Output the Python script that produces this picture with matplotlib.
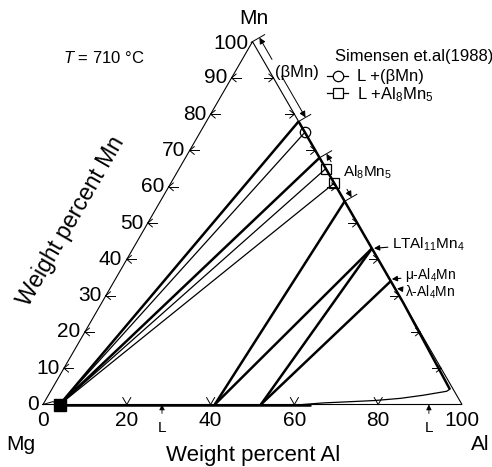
import numpy as np
import matplotlib
matplotlib.use("Agg")
import matplotlib.pyplot as plt
from matplotlib.lines import Line2D

plt.rcParams['font.family'] = ['Liberation Sans', 'DejaVu Sans']
plt.rcParams['mathtext.fontset'] = 'custom'
plt.rcParams['mathtext.rm'] = 'Liberation Sans'
plt.rcParams['mathtext.it'] = 'Liberation Sans:italic'
plt.rcParams['mathtext.default'] = 'regular'

# ---------------- data (wt.%) ----------------
mn_axis_ticks = [0, 10, 20, 30, 40, 50, 60, 70, 80, 90, 100]
al_axis_ticks = [0, 20, 40, 60, 80, 100]

# Mg-rich liquid and its tie lines to the Al-Mn side (end points given as wt.% Mn)
liq_mg_al, liq_mg_mn = 4.0, 0.0
fan_end_mn = [78, 75, 68, 65, 61]
fan_heavy = [True, False, True, False, False]

# liquids on the Mg-Al side and their tie lines
tie_start_al = [41, 41, 52, 52]
tie_end_mn = [56, 43, 43, 34]

# Simensen et al. (1988)
sim_beta_mn = [75]
sim_al8mn5_mn = [65, 61]

# homogeneity ranges / compounds on the Al-Mn side (wt.% Mn)
beta_range = (78, 100)
al8mn5_range = (56, 68)
lt_al11mn4_mn = 43
mu_al4mn_mn = 34.5
lambda_al4mn_mn = 32

# liquid boundary near the Al corner
liq_al_curve_al = [62, 66.7, 72.5, 78.7, 84.5, 89.5, 94.5, 95.0]
liq_al_curve_mn = [0, 0.44, 0.75, 1.1, 1.7, 2.56, 3.64, 4.2]

# solid boundary along the Al-Mn side
edge_bound_al = [22, 72, 95.0]
edge_bound_mn = [78, 28, 4.2]

# liquid along the Mg-Al side
liq_base_al = [4, 64]

L_mark_al = [28.4, 92.1]

# ---------------- geometry ----------------
S = 4.19            # pixels per wt.%
X0, Y0 = 43, 404.5  # Mg corner in pixels
R3 = np.sqrt(3) / 2


def tern(al, mn):
    al = np.asarray(al, float)
    mn = np.asarray(mn, float)
    return al + mn / 2, mn * R3


def edge(mn):
    return tern(100 - np.asarray(mn, float), mn)


def P(xp, yp):
    return (xp - X0) / S, (Y0 - yp) / S


fig = plt.figure(figsize=(4.92, 4.67), dpi=100)
ax = fig.add_axes([0, 0, 1, 1])
ax.set_xlim(-X0 / S, (492 - X0) / S)
ax.set_ylim(-(467 - Y0) / S, Y0 / S)
ax.axis('off')

K = 'black'
LW_THIN, LW_EDGE, LW_HEAVY = 0.9, 0.8, 1.8

# triangle
tx, ty = tern([0, 100, 0, 0], [0, 0, 100, 0])
ax.plot(tx, ty, color=K, lw=LW_EDGE, solid_joinstyle='miter')

# axis ticks
u = 1 / S
for m in mn_axis_ticks[1:-1]:
    # left (Mg-Mn) side
    px, py = tern(0, m)
    ax.plot([px, px + 9 * u], [py, py], color=K, lw=0.7)
    for s in (1, -1):
        a = np.radians(40)
        ax.plot([px, px + 6 * u * np.cos(a)], [py, py + s * 6 * u * np.sin(a)], color=K, lw=0.7)
    # right (Al-Mn) side
    px, py = edge(m)
    ax.plot([px, px - 9 * u], [py, py], color=K, lw=0.7)
    for s in (1, -1):
        a = np.radians(40)
        ax.plot([px, px - 6 * u * np.cos(a)], [py, py + s * 6 * u * np.sin(a)], color=K, lw=0.7)
for a_t in al_axis_ticks[1:-1]:
    px, py = tern(a_t, 0)
    for s in (1, -1):
        a = np.radians(30)
        ax.plot([px, px + s * 8 * u * np.sin(a)], [py, py + 8 * u * np.cos(a)], color=K, lw=0.7)

# small mark at the Mg corner
cx, cy = tern([0, 2.0, 3.6], [0, 0.8, 0])
ax.plot(cx, cy, color=K, lw=0.7)

# tick labels
for m in mn_axis_ticks:
    px, py = tern(0, m)
    ax.text(px - 4.5 * u, py - (1.5 * u if m == 100 else 0), str(m), ha='right', va='center',
            fontsize=15)
for a_t in al_axis_ticks:
    px, py = tern(a_t, 0)
    ax.text(px, py - 7 * u, str(a_t), ha='center', va='top', fontsize=15)

# corner and axis names
ax.text(*P(21, 445), 'Mg', ha='center', va='center', fontsize=15)
ax.text(*P(480, 445), 'Al', ha='center', va='center', fontsize=15)
ax.text(*P(254, 19), 'Mn', ha='center', va='center', fontsize=15)
ax.text(*P(253.5, 461.5), 'Weight percent Al', ha='center', va='baseline', fontsize=16)
ax.text(*P(71, 221), 'Weight percent Mn', ha='center', va='center', rotation=60,
        rotation_mode='anchor', fontsize=16.5)
ax.text(*P(63, 58), r'$\mathit{T}$ = 710 °C', ha='left', va='center', fontsize=12)

# liquid along Mg-Al side
bx, by = tern(liq_base_al, [0, 0])
ax.plot(bx, by, color=K, lw=LW_HEAVY, solid_capstyle='butt')

# liquid boundary near Al
lx, ly = tern(liq_al_curve_al, liq_al_curve_mn)
ax.plot(lx, ly, color=K, lw=LW_THIN)

# solid boundary along Al-Mn side
ex, ey = tern(edge_bound_al, edge_bound_mn)
ax.plot(ex, ey, color=K, lw=LW_HEAVY, solid_capstyle='butt', solid_joinstyle='round')

# tie lines from the Mg-rich liquid
x0, y0 = tern(liq_mg_al, liq_mg_mn)
for m, heavy in zip(fan_end_mn, fan_heavy):
    x1, y1 = edge(m)
    ax.plot([x0, x1], [y0, y1], color=K, lw=LW_HEAVY if heavy else LW_THIN,
            solid_capstyle='butt')

# tie lines from Mg-Al liquids
for a0, m in zip(tie_start_al, tie_end_mn):
    xa, ya = tern(a0, 0)
    x1, y1 = edge(m)
    ax.plot([xa, x1], [ya, y1], color=K, lw=LW_HEAVY, solid_capstyle='butt')

# Mg-rich liquid point
ax.plot([x0], [y0], marker='s', ms=8, color=K, ls='none')

# Simensen points
bx, by = edge(sim_beta_mn)
ax.plot(bx, by, marker='o', ms=7.5, mfc='none', mec=K, mew=0.9, ls='none')
sx, sy = edge(sim_al8mn5_mn)
ax.plot(sx, sy, marker='s', ms=7.5, mfc='none', mec=K, mew=0.9, ls='none')

# homogeneity ranges marked outside the Al-Mn side
nrm = np.array([np.cos(np.pi / 6), np.sin(np.pi / 6)])
off = 8 * u


def ext_line(m):
    p = np.array(edge(m))
    a = p - 1.5 * u * nrm
    b = p + 14 * u * nrm
    ax.plot([a[0], b[0]], [a[1], b[1]], color=K, lw=0.7)


def dim_arrow(m_tip, m_from):
    tip = np.array(edge(m_tip)) + off * nrm
    frm = np.array(edge(m_from)) + off * nrm
    ax.annotate('', xy=tip, xytext=frm,
                arrowprops=dict(arrowstyle='-|>', lw=0.7, color=K, mutation_scale=9,
                                shrinkA=0, shrinkB=0))


for m in beta_range:
    ext_line(m)
dim_arrow(beta_range[1], 94)
dim_arrow(beta_range[0], 89.4)
ax.text(*P(297, 72), '(βMn)', ha='center', va='center', fontsize=12)

for m in al8mn5_range:
    ext_line(m)
dim_arrow(al8mn5_range[1], al8mn5_range[1] - 2.2)
dim_arrow(al8mn5_range[0], al8mn5_range[0] + 2.2)

# compound labels
ax.text(*P(343, 172), r'Al$_{8}$Mn$_{5}$', ha='left', va='center', fontsize=11)
arrow_kw = dict(arrowstyle='-|>', lw=0.8, color=K, mutation_scale=8, shrinkA=1, shrinkB=1.5)
ax.annotate(r'LTAl$_{11}$Mn$_{4}$', xy=edge(lt_al11mn4_mn), xytext=P(392, 244),
            ha='left', va='center', fontsize=11, arrowprops=arrow_kw)
ax.annotate(r'μ-Al$_{4}$Mn', xy=edge(mu_al4mn_mn), xytext=P(405, 275.5),
            ha='left', va='center', fontsize=10, arrowprops=arrow_kw)
ax.annotate(r'λ-Al$_{4}$Mn', xy=edge(lambda_al4mn_mn), xytext=P(405, 292),
            ha='left', va='center', fontsize=10, arrowprops=arrow_kw)

# L marks on the Mg-Al side
for a_l in L_mark_al:
    px, py = tern(a_l, 0)
    ax.annotate('L', xy=(px, py), xytext=(px, py - 23 * u), ha='center', va='center',
                fontsize=11,
                arrowprops=dict(arrowstyle='-|>', lw=0.6, color=K, mutation_scale=8,
                                shrinkA=3, shrinkB=0))

# legend
ax.text(*P(335, 57), 'Simensen et.al(1988)', ha='left', va='center', fontsize=12)
handles = [
    Line2D([], [], color=K, lw=0.9, marker='o', ms=7.5, mfc='white', mec=K, mew=0.9),
    Line2D([], [], color=K, lw=0.9, marker='s', ms=7.5, mfc='white', mec=K, mew=0.9),
]
labels = ['L +(βMn)', r'L +Al$_{8}$Mn$_{5}$']
ax.legend(handles, labels, loc='upper left', bbox_to_anchor=(327 / 492, 1 - 69.5 / 467),
          bbox_transform=fig.transFigure, frameon=False, fontsize=12, borderpad=0,
          borderaxespad=0, handlelength=1.26, handletextpad=0.54, labelspacing=0.05)

fig.savefig('out.png', dpi=100)
